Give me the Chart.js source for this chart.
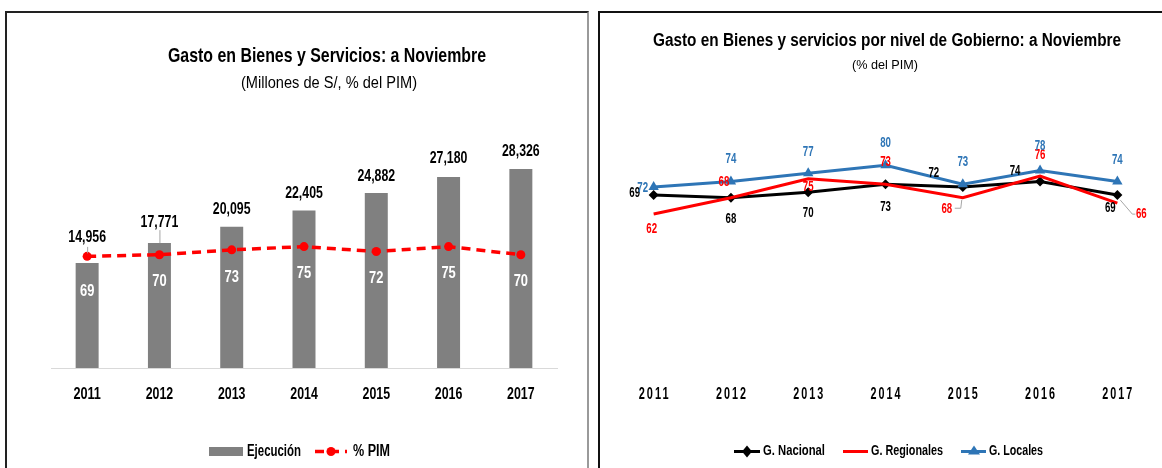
<!DOCTYPE html>
<html><head><meta charset="utf-8">
<script src="https://cdn.jsdelivr.net/npm/chart.js@4.4.1/dist/chart.umd.min.js"></script>
<style>
html,body{margin:0;padding:0;background:#fff;width:1162px;height:468px;overflow:hidden;}
#p1{position:absolute;left:5px;top:11px;width:580px;height:470px;border-left:2px solid #222;border-top:2px solid #222;border-right:2px solid #9a9a9a;}
#p2{position:absolute;left:598px;top:11px;width:600px;height:470px;border-left:2px solid #111;border-top:2px solid #111;}
#c1{position:absolute;left:7px;top:13px;}
#c2{position:absolute;left:600px;top:13px;}
</style>
</head><body>
<div id="p1"></div><div id="p2"></div>
<canvas id="c1" width="580" height="455"></canvas>
<canvas id="c2" width="562" height="455"></canvas>
<script>
// ---- data ----
const years = ['2011','2012','2013','2014','2015','2016','2017'];
const ejecucion = [14956,17771,20095,22405,24882,27180,28326];
const pimPct = [69,70,73,75,72,75,70];
const gNacional = [69,68,70,73,72,74,69];
const gRegionales = [62,68,75,73,68,76,66];
const gLocales = [72,74,77,80,73,78,74];

// ---- label placement (style) ----
const barLabelLift = [25,21,17,17,17,18,17];
const pctLabelDrop = [35,27,27,27,27,27,27];
const natOff = [[-19,-2],[0,21],[0,21],[0,23],[-29,-14],[-25,-10],[-7,13]];
const regOff = [[-2,15],[-7,-16],[0,8],[0,-22],[-16,11],[0,-21],[24,11]];
const locOff = [[-11,1],[0,-22],[0,-21],[0,-22],[0,-22],[0,-24],[0,-21]];

const BLUE = '#2E75B6', RED = '#FF0000';
const FONT = '"Liberation Sans", Arial, sans-serif';

function T(ctx, s, x, y, o){
  ctx.save();
  ctx.font = (o.bold?'bold ':'') + o.size + 'px ' + FONT;
  ctx.fillStyle = o.color || '#000';
  ctx.textBaseline = o.base || 'middle';
  ctx.textAlign = 'left';
  if (o.ls) ctx.letterSpacing = o.ls + 'px';
  const w = ctx.measureText(s).width - (o.ls||0);
  const sx = o.w ? o.w / w : (o.sx || 0.74);
  ctx.translate(x, y); ctx.scale(sx, 1);
  const ax = o.align === 'left' ? 0 : (o.align === 'right' ? -w : -w/2);
  ctx.fillText(s, ax, 0);
  ctx.restore();
}
function fmt(n){ return n.toLocaleString('en-US'); }

// ---- chart 1 ----
const leftPlugin = {
  id:'leftDecor',
  afterDraw(chart){
    const ctx = chart.ctx;
    const xs = chart.scales.x;
    const bars = chart.getDatasetMeta(1).data;
    const pts = chart.getDatasetMeta(0).data;
    // titles
    T(ctx,'Gasto en Bienes y Servicios: a Noviembre',320,49,{size:21,bold:true,w:318,base:'alphabetic'});
    T(ctx,'(Millones de S/, % del PIM)',322,75,{size:16,w:176,base:'alphabetic'});
    // leader lines
    ctx.save(); ctx.strokeStyle='#A6A6A6'; ctx.lineWidth=1;
    ctx.beginPath();
    ctx.moveTo(bars[0].x+0.5, bars[0].y-barLabelLift[0]+9); ctx.lineTo(bars[0].x+0.5, pts[0].y-3);
    ctx.moveTo(bars[1].x+0.5, bars[1].y-barLabelLift[1]+8); ctx.lineTo(bars[1].x+0.5, bars[1].y);
    ctx.stroke(); ctx.restore();
    years.forEach((yr,i)=>{
      const b = bars[i], p = pts[i];
      T(ctx, fmt(ejecucion[i]), b.x, b.y - barLabelLift[i], {size:16,bold:true,sx:0.77});
      T(ctx, String(pimPct[i]), b.x, p.y + pctLabelDrop[i], {size:17,bold:true,sx:0.76,color:'#fff'});
      T(ctx, yr, xs.getPixelForValue(i), 381.5, {size:17,bold:true,w:27.5});
    });
    // legend
    const ly = 438.5;
    ctx.save();
    ctx.fillStyle='#808080'; ctx.fillRect(202,ly-4.5,34,9);
    ctx.strokeStyle=RED; ctx.lineWidth=3.5; ctx.setLineDash([9,6]);
    ctx.beginPath(); ctx.moveTo(308,ly); ctx.lineTo(340,ly); ctx.stroke();
    ctx.setLineDash([]); ctx.fillStyle=RED; ctx.beginPath(); ctx.arc(324,ly,4.5,0,Math.PI*2); ctx.fill();
    ctx.restore();
    T(ctx,'Ejecución',240,ly,{size:16,bold:true,w:54,align:'left'});
    T(ctx,'% PIM',346,ly,{size:16,bold:true,w:37,align:'left'});
  }
};

new Chart(document.getElementById('c1'), {
  data:{
    labels: years,
    datasets:[
      {type:'line', label:'% PIM', data:pimPct, yAxisID:'y2', order:0,
       borderColor:RED, borderWidth:3.5, borderDash:[9,6], tension:0,
       pointRadius:4.5, pointBackgroundColor:RED, pointBorderWidth:0, fill:false},
      {type:'bar', label:'Ejecución', data:ejecucion, yAxisID:'y', order:1,
       backgroundColor:'#808080', categoryPercentage:1, barPercentage:0.318}
    ]
  },
  options:{
    responsive:false, animation:false, devicePixelRatio:1,
    layout:{padding:{left:44,right:30,top:109,bottom:100}},
    plugins:{legend:{display:false},title:{display:false},tooltip:{enabled:false}},
    scales:{
      x:{grid:{display:false}, ticks:{display:false}, border:{display:true,color:'#D9D9D9',width:1}, afterFit(s){s.height=0;}},
      y:{display:false,min:0,max:35000},
      y2:{display:false,min:0,max:152,position:'right'}
    }
  },
  plugins:[leftPlugin]
});

// ---- chart 2 ----
const rightPlugin = {
  id:'rightDecor',
  afterDraw(chart){
    const ctx = chart.ctx;
    const xs = chart.scales.x;
    T(ctx,'Gasto en Bienes y servicios por nivel de Gobierno: a Noviembre',287,33,{size:18,bold:true,w:468,base:'alphabetic'});
    T(ctx,'(% del PIM)',285,56,{size:13,w:66,base:'alphabetic'});
    const mN = chart.getDatasetMeta(0).data, mR = chart.getDatasetMeta(1).data, mL = chart.getDatasetMeta(2).data;
    // leader lines
    ctx.save(); ctx.strokeStyle='#A6A6A6'; ctx.lineWidth=1;
    ctx.beginPath();
    ctx.moveTo(mR[4].x-8, mR[4].y+10.5); ctx.lineTo(mR[4].x-2, mR[4].y+10.5); ctx.lineTo(mR[4].x-1, mR[4].y+2);
    ctx.moveTo(mR[6].x+3, mR[6].y-3); ctx.lineTo(mR[6].x+15, mR[6].y+11); ctx.lineTo(mR[6].x+18, mR[6].y+11);
    ctx.stroke(); ctx.restore();
    years.forEach((yr,i)=>{
      T(ctx, String(gNacional[i]), mN[i].x+natOff[i][0], mN[i].y+natOff[i][1], {size:14,bold:true,sx:0.69,color:'#000'});
      T(ctx, String(gRegionales[i]), mR[i].x+regOff[i][0], mR[i].y+regOff[i][1], {size:14,bold:true,sx:0.69,color:RED});
      T(ctx, String(gLocales[i]), mL[i].x+locOff[i][0], mL[i].y+locOff[i][1], {size:14,bold:true,sx:0.69,color:BLUE});
      T(ctx, yr, xs.getPixelForValue(i), 381.5, {size:16,bold:true,ls:3,w:30});
    });
    // legend
    const ly = 438.5;
    ctx.save();
    ctx.lineWidth=3;
    ctx.strokeStyle='#000'; ctx.beginPath(); ctx.moveTo(134,ly); ctx.lineTo(160,ly); ctx.stroke();
    ctx.fillStyle='#000'; ctx.beginPath(); ctx.moveTo(147,ly-6); ctx.lineTo(152,ly); ctx.lineTo(147,ly+6); ctx.lineTo(142,ly); ctx.closePath(); ctx.fill();
    ctx.strokeStyle=RED; ctx.beginPath(); ctx.moveTo(243,ly); ctx.lineTo(268,ly); ctx.stroke();
    ctx.strokeStyle=BLUE; ctx.beginPath(); ctx.moveTo(361,ly); ctx.lineTo(386,ly); ctx.stroke();
    ctx.fillStyle=BLUE; ctx.beginPath(); ctx.moveTo(374,ly-6); ctx.lineTo(380,ly+3); ctx.lineTo(368,ly+3); ctx.closePath(); ctx.fill();
    ctx.restore();
    T(ctx,'G. Nacional',163,ly,{size:14,bold:true,w:62,align:'left'});
    T(ctx,'G. Regionales',271,ly,{size:14,bold:true,w:72,align:'left'});
    T(ctx,'G. Locales',389,ly,{size:14,bold:true,w:54,align:'left'});
  }
};

new Chart(document.getElementById('c2'), {
  type:'line',
  data:{
    labels: years,
    datasets:[
      {label:'G. Nacional', data:gNacional, order:3, borderColor:'#000', borderWidth:3, tension:0,
       pointStyle:'rectRot', pointRadius:5, pointBackgroundColor:'#000', pointBorderColor:'#000', pointBorderWidth:0},
      {label:'G. Regionales', data:gRegionales, order:2, borderColor:RED, borderWidth:3, tension:0, pointRadius:0},
      {label:'G. Locales', data:gLocales, order:1, borderColor:BLUE, borderWidth:3, tension:0,
       pointStyle:'triangle', pointRadius:6, pointBackgroundColor:BLUE, pointBorderColor:BLUE, pointBorderWidth:0}
    ]
  },
  options:{
    responsive:false, animation:false, devicePixelRatio:1,
    layout:{padding:{left:15,right:4,top:98,bottom:86}},
    plugins:{legend:{display:false},title:{display:false},tooltip:{enabled:false}},
    scales:{
      x:{offset:true, grid:{display:false, offset:true}, ticks:{display:false}, border:{display:false}, afterFit(s){s.height=0;}},
      y:{display:false,min:0,max:100}
    }
  },
  plugins:[rightPlugin]
});
</script>
</body></html>
